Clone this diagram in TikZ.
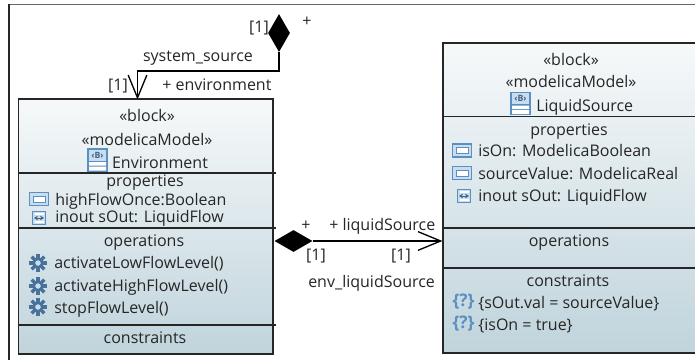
\documentclass[tikz,border=0pt]{standalone}
\usepackage{fontspec}
\setmainfont{Open Sans}
\usetikzlibrary{shapes.geometric,arrows.meta,positioning}
\definecolor{boxtop}{HTML}{F6F9FA}
\definecolor{boxbottom}{HTML}{C0D4DC}
\definecolor{iconblue}{HTML}{5B8FC0}
\definecolor{iconfill}{HTML}{C9DDF0}
\tikzset{
  blockbox/.style={draw=black!85,line width=1.1pt,rectangle,top color=boxtop,bottom color=boxbottom,inner sep=0pt},
  lbl/.style={font=\fontsize{12}{14}\selectfont,inner sep=0pt,text=black!85,text height=8.5pt,text depth=2.5pt},
  leftlbl/.style={lbl,anchor=west},
  filled/.style={diamond,fill=black,inner sep=0pt,minimum width=16.5pt,minimum height=28.5pt},
  assoc/.style={line width=1pt,-{Straight Barb[length=17pt,width=14pt,line width=1pt]}},
  propicon/.pic={
    \draw[iconblue,fill=iconfill,line width=1pt] (-9.5,-6.5) rectangle (9.5,6.5);
    \draw[iconblue,fill=white,line width=.7pt] (-6,-3) rectangle (6,3);
  },
  porticon/.pic={
    \draw[iconblue,fill=iconfill,line width=.9pt] (-6.5,-6.5) rectangle (6.5,6.5);
    \draw[iconblue!70!black,line width=.5pt,{Stealth[length=3pt,width=3.5pt]}-{Stealth[length=3pt,width=3.5pt]}] (-5,0) -- (5,0);
    \draw[white,line width=.8pt] (-4.5,-4) -- (4.5,-4) (-4.5,4) -- (4.5,4);
  },
  gearicon/.pic={
    \foreach \a in {0,45,...,315}
      \draw[iconblue!80!black,line width=2.6pt] (\a:4.5) -- (\a:9);
    \draw[iconblue!80!black,fill=iconfill,line width=2pt] (0,0) circle (4.3);
  },
  blockicon/.pic={
    \draw[iconblue,fill=iconfill,line width=.9pt] (-9.5,-11) rectangle (9.5,11);
    \draw[iconblue,line width=.9pt] (-9.5,1.5) -- (9.5,1.5) (-9.5,6) -- (9.5,6);
    \fill[white] (-8.5,2) rectangle (8.5,5.5) (-8.5,6.5) rectangle (8.5,10.5);
  },
  blockname/.style={font=\fontsize{6.5}{6.5}\selectfont\bfseries,inner sep=0pt,text=iconblue!70!black},
  queryicon/.style={font=\fontsize{13}{14}\selectfont\bfseries,inner sep=0pt,text=iconblue}
}
\begin{document}
\begin{tikzpicture}[x=.75pt,y=-.75pt]
\clip (0,0) rectangle (695,360);
\fill[white] (0,0) rectangle (695,360);

% frame
\draw[black!60,line width=1.3pt] (9,4.5) -- (695,4.5);
\draw[black!85,line width=1pt] (9,4.5) -- (9,360);

% blocks
\node[blockbox,minimum width=191pt,minimum height=191.5pt] (environment) at (145.75,226.5) {};
\node[blockbox,minimum width=192.5pt,minimum height=232.5pt] (liquidsource) at (571.5,198) {};

\draw[line width=1.1pt,black!85] (18.5,173) -- (276,173);
\draw[line width=1.1pt,black!85] (18.5,228) -- (276,228);
\draw[line width=1.1pt,black!85] (18.5,325) -- (276,325);
\draw[line width=1.1pt,black!85] (443,116.5) -- (695,116.5);
\draw[line width=1.1pt,black!85] (443,228) -- (695,228);
\draw[line width=1.1pt,black!85] (443,268) -- (695,268);

% Environment
\node[lbl] (envblock) at (147,117.7) {«block»};
\node[lbl] (envmodel) at (147,141) {«modelicaModel»};
\pic at (97.5,160) {blockicon};
\node[blockname] (envb) at (97.5,155) {‹B›};
\node[lbl] (envname) at (160,164) {Environment};
\node[lbl] (envprops) at (145,182.5) {properties};
\pic at (39,199) {propicon};
\node[leftlbl] (highflow) at (55,201) {highFlowOnce:Boolean};
\pic at (39,218) {porticon};
\node[leftlbl] (envport) at (55,218.7) {inout sOut: LiquidFlow};
\node[lbl] (envops) at (144,242.7) {operations};
\pic at (38,263) {gearicon};
\node[leftlbl] (lowflow) at (54,264) {activateLowFlowLevel()};
\pic at (38,286) {gearicon};
\node[leftlbl] (highlevel) at (54,287) {activateHighFlowLevel()};
\pic at (38,307) {gearicon};
\node[leftlbl] (stopflow) at (54,309) {stopFlowLevel()};
\node[lbl] (envcons) at (145,339) {constraints};

% LiquidSource
\node[lbl] (srcblock) at (571,61.7) {«block»};
\node[lbl] (srcmodel) at (571,83.7) {«modelicaModel»};
\pic at (520.5,103.5) {blockicon};
\node[blockname] (srcb) at (520.5,98.5) {‹B›};
\node[leftlbl] (srcname) at (536,107) {LiquidSource};
\node[lbl] (srcprops) at (569,131) {properties};
\pic at (462,150.5) {propicon};
\node[leftlbl] (ison) at (478,152) {isOn: ModelicaBoolean};
\pic at (462,173) {propicon};
\node[leftlbl] (srcvalue) at (478,175) {sourceValue: ModelicaReal};
\pic at (464,196) {porticon};
\node[leftlbl] (srcport) at (478,197.7) {inout sOut: LiquidFlow};
\node[lbl] (srcops) at (569,242.7) {operations};
\node[lbl] (srccons) at (568,282.7) {constraints};
\node[queryicon] (queryone) at (463.5,302) {\{?\}};
\node[leftlbl] (consone) at (478,304) {\{sOut.val = sourceValue\}};
\node[queryicon] (querytwo) at (463.5,324) {\{?\}};
\node[leftlbl] (constwo) at (478,326.7) {\{isOn = true\}};

% system_source
\node[filled] (sysdiamond) at (279,33) {};
\coordinate (envtop) at (137.5,99.5);
\draw[assoc] (sysdiamond.south) -- (279,71) -| (envtop);
\node[lbl] (sysmult) at (259,29) {[1]};
\node[lbl] (sysplus) at (307,23) {+};
\node[lbl] (sysname) at (198,58) {system\_source};
\node[lbl] (envmult) at (118,86) {[1]};
\node[leftlbl] (envrole) at (162,86) {+ environment};

% env_liquidSource
\node[filled,minimum width=28.5pt,minimum height=16.5pt] (liqdiamond) at (293.5,241) {};
\draw[assoc] (liqdiamond.east) -- (liqdiamond.east -| liquidsource.west);
\node[lbl] (liqplus) at (306,226.7) {+};
\node[leftlbl] (liqrole) at (329,226.7) {+ liquidSource};
\node[lbl] (liqmultl) at (316,256.7) {[1]};
\node[lbl] (liqmultr) at (401,256.7) {[1]};
\node[leftlbl] (liqname) at (308,283.7) {env\_liquidSource};
\end{tikzpicture}
\end{document}
